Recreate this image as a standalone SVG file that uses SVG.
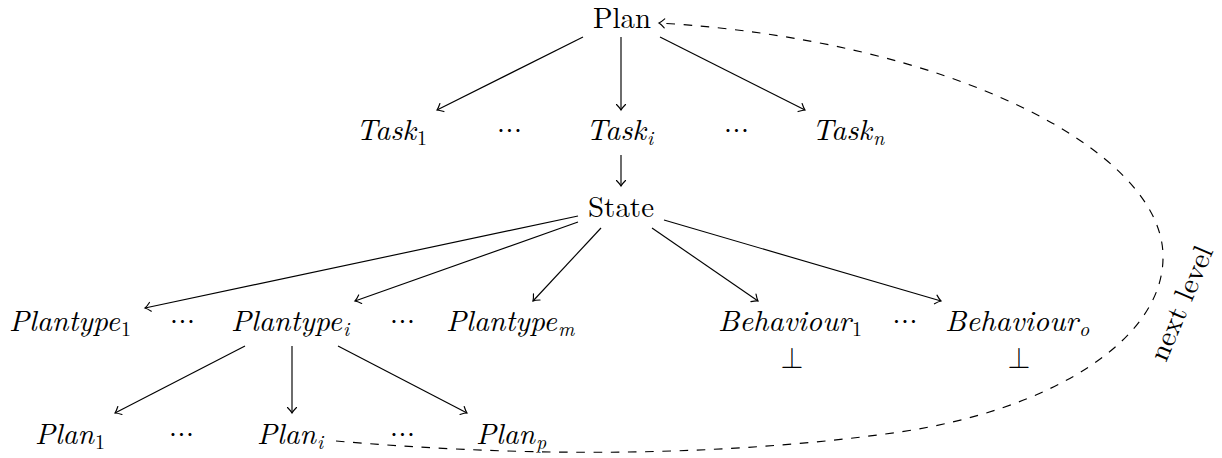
<svg xmlns="http://www.w3.org/2000/svg" width="1222" height="458" viewBox="0 0 1222 458">
<style>
text{font-family:'CMU Serif','Latin Modern Roman','Liberation Serif','DejaVu Serif','Noto Serif','FreeSerif','Nimbus Roman','Tinos','Times New Roman',Times,serif;font-size:28.8px;fill:#000}
.it{font-style:italic}
.sub{font-size:20px}
.subi{font-style:italic;font-size:20px}
.c{text-anchor:middle}
.bot{font-family:'Latin Modern Math','CMU Serif','STIX Two Math','STIXGeneral','DejaVu Serif',serif}
.e{fill:none;stroke:#000;stroke-width:1.15}
.d{fill:none;stroke:#000;stroke-width:1.15;stroke-dasharray:8.6,8.6}
</style>
<defs>
<marker id="ah" viewBox="-7 -6 9 12" markerWidth="9" markerHeight="12" refX="0" refY="0" orient="auto" markerUnits="userSpaceOnUse">
<path d="M -5.5 -4.5 Q -2 -1 0 0 Q -2 1 -5.5 4.5" fill="none" stroke="#000" stroke-width="1.15" stroke-linecap="round"/>
</marker>
</defs>
<g id="connectors">
<path class="e" d="M 583 37 L 437 110" marker-end="url(#ah)"/>
<path class="e" d="M 621 37 L 621 110" marker-end="url(#ah)"/>
<path class="e" d="M 660 37 L 805 110" marker-end="url(#ah)"/>
<path class="e" d="M 621 155 L 621 186" marker-end="url(#ah)"/>
<path class="e" d="M 578 216 L 145 308" marker-end="url(#ah)"/>
<path class="e" d="M 578 222 L 355 301" marker-end="url(#ah)"/>
<path class="e" d="M 601 228 L 533 301" marker-end="url(#ah)"/>
<path class="e" d="M 652 228 L 758 301" marker-end="url(#ah)"/>
<path class="e" d="M 664 220 L 941 301" marker-end="url(#ah)"/>
<path class="e" d="M 245 346 L 115 413" marker-end="url(#ah)"/>
<path class="e" d="M 292 346 L 292 413" marker-end="url(#ah)"/>
<path class="e" d="M 338 346 L 467 413" marker-end="url(#ah)"/>
<path class="d" d="M 336 441 C 500 455, 700 460, 900 432 C 1050 410, 1165 340, 1163 255 C 1161 150, 950 40, 659 23" marker-end="url(#ah)"/>
<text transform="translate(1166,363) rotate(-67)" textLength="122" lengthAdjust="spacingAndGlyphs">next level</text>
</g>
<g id="plan"><text x="593" y="28" textLength="58" lengthAdjust="spacingAndGlyphs">Plan</text></g>
<g id="task1"><text class="it" x="356" y="140" textLength="60" lengthAdjust="spacingAndGlyphs">Task</text><text class="sub" x="417" y="145">1</text></g>
<g id="dots1"><text class="c" x="501 509.5 518" y="140">···</text></g>
<g id="taski"><text class="it" x="586" y="140" textLength="60" lengthAdjust="spacingAndGlyphs">Task</text><text class="subi" x="647" y="145">i</text></g>
<g id="dots2"><text class="c" x="728 736.5 745" y="140">···</text></g>
<g id="taskn"><text class="it" x="812" y="140" textLength="60" lengthAdjust="spacingAndGlyphs">Task</text><text class="subi" x="873" y="145">n</text></g>
<g id="state"><text x="588" y="217" textLength="66" lengthAdjust="spacingAndGlyphs">State</text></g>
<g id="plantype1"><text class="it" x="9" y="331" textLength="111" lengthAdjust="spacingAndGlyphs">Plantype</text><text class="sub" x="121" y="336">1</text></g>
<g id="dots3"><text class="c" x="174 182.5 191" y="331">···</text></g>
<g id="plantypei"><text class="it" x="231" y="331" textLength="111" lengthAdjust="spacingAndGlyphs">Plantype</text><text class="subi" x="343" y="336">i</text></g>
<g id="dots4"><text class="c" x="394 402.5 411" y="331">···</text></g>
<g id="plantypem"><text class="it" x="446" y="331" textLength="111" lengthAdjust="spacingAndGlyphs">Plantype</text><text class="subi" x="558" y="336">m</text></g>
<g id="behaviour1"><text class="it" x="718" y="331" textLength="133" lengthAdjust="spacingAndGlyphs">Behaviour</text><text class="sub" x="852" y="336">1</text></g>
<g id="dots5"><text class="c" x="896.5 905 913.5" y="331">···</text></g>
<g id="behaviouro"><text class="it" x="945" y="331" textLength="133" lengthAdjust="spacingAndGlyphs">Behaviour</text><text class="subi" x="1079" y="336">o</text></g>
<g id="bot1"><text class="c bot" x="792" y="368">⊥</text></g>
<g id="bot2"><text class="c bot" x="1019" y="368">⊥</text></g>
<g id="plan1"><text class="it" x="35" y="444" textLength="59" lengthAdjust="spacingAndGlyphs">Plan</text><text class="sub" x="95" y="449">1</text></g>
<g id="dots6"><text class="c" x="173 181.5 190" y="444">···</text></g>
<g id="plani"><text class="it" x="257" y="444" textLength="59" lengthAdjust="spacingAndGlyphs">Plan</text><text class="subi" x="317" y="449">i</text></g>
<g id="dots7"><text class="c" x="394 402.5 411" y="444">···</text></g>
<g id="planp"><text class="it" x="476" y="444" textLength="59" lengthAdjust="spacingAndGlyphs">Plan</text><text class="subi" x="536" y="449">p</text></g>
</svg>
